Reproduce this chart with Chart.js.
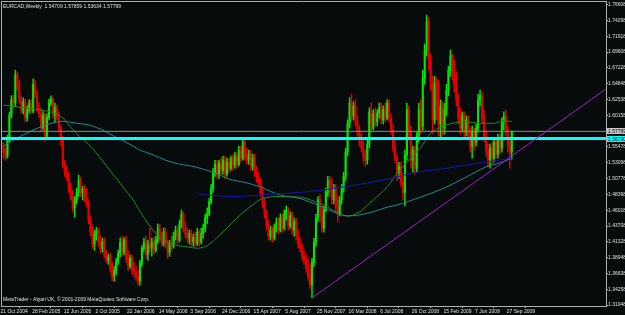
<!DOCTYPE html>
<html>
<head>
<meta charset="utf-8">
<script src="https://cdn.jsdelivr.net/npm/chart.js@4.4.1/dist/chart.umd.min.js"></script>
<style>
  html, body { margin: 0; padding: 0; background: #000; }
  canvas { display: block; }
</style>
</head>
<body>
<canvas id="chart" width="625" height="315"></canvas>
<script>
// ── DATA (weekly EURCAD) ──
const SYMBOL = 'EURCAD,Weekly';
const COPYRIGHT = 'MetaTrader - Alpari UK, \u00a9 2001-2009 MetaQuotes Software Corp.';

const DATE_LABELS = ['21 Oct 2004','28 Feb 2005','12 Jun 2005','2 Oct 2005','22 Jan 2006','14 May 2006',
  '3 Sep 2006','24 Dec 2006','15 Apr 2007','5 Aug 2007','25 Nov 2007','16 Mar 2008','6 Jul 2008',
  '26 Oct 2008','15 Feb 2009','7 Jun 2009','27 Sep 2009'];
const DATE_BARS = [0,16,32,48,64,80,96,112,128,144,160,176,192,208,224,240,256];

const PRICE_TICKS = [1.31948,1.34258,1.36638,1.38948,1.41328,1.43708,1.46018,1.48398,1.50778,1.53098,
  1.55478,1.60158,1.62538,1.64848,1.67228,1.69608,1.71918,1.74298,1.76608];

const OPEN = [
1.557,1.547,1.541,1.568,1.602,1.625,1.620,1.662,1.645,1.625,
1.610,1.622,1.598,1.610,1.620,1.608,1.648,1.632,1.613,1.604,
1.584,1.602,1.571,1.599,1.620,1.626,1.602,1.613,1.599,1.583,
1.565,1.529,1.517,1.510,1.493,1.481,1.464,1.476,1.487,1.505,
1.487,1.492,1.478,1.470,1.446,1.428,1.410,1.425,1.429,1.413,
1.403,1.413,1.394,1.386,1.391,1.374,1.362,1.371,1.385,1.397,
1.413,1.398,1.416,1.389,1.377,1.389,1.371,1.368,1.362,1.355,
1.382,1.404,1.413,1.395,1.410,1.404,1.413,1.401,1.416,1.434,
1.419,1.411,1.428,1.410,1.398,1.411,1.407,1.422,1.431,1.416,
1.440,1.455,1.434,1.425,1.419,1.426,1.413,1.420,1.411,1.428,
1.413,1.426,1.434,1.449,1.455,1.473,1.493,1.517,1.529,1.514,
1.531,1.520,1.535,1.514,1.532,1.523,1.537,1.528,1.541,1.529,
1.550,1.538,1.562,1.541,1.535,1.544,1.526,1.538,1.517,1.508,
1.502,1.487,1.470,1.455,1.437,1.422,1.431,1.419,1.434,1.443,
1.431,1.449,1.434,1.455,1.461,1.437,1.452,1.431,1.443,1.422,
1.410,1.404,1.392,1.386,1.374,1.362,1.350,1.383,1.413,1.449,
1.476,1.452,1.434,1.461,1.487,1.505,1.490,1.476,1.493,1.464,
1.455,1.476,1.493,1.511,1.547,1.589,1.620,1.601,1.616,1.592,
1.577,1.562,1.553,1.541,1.535,1.559,1.607,1.583,1.604,1.592,
1.605,1.613,1.595,1.610,1.598,1.620,1.598,1.580,1.553,1.538,
1.517,1.526,1.502,1.487,1.543,1.610,1.577,1.535,1.550,1.523,
1.571,1.610,1.586,1.657,1.699,1.741,1.684,1.651,1.595,1.648,
1.607,1.589,1.616,1.583,1.610,1.639,1.669,1.690,1.666,1.645,
1.625,1.598,1.583,1.601,1.577,1.595,1.571,1.556,1.577,1.562,
1.583,1.625,1.631,1.598,1.571,1.550,1.535,1.553,1.538,1.562,
1.544,1.568,1.553,1.592,1.601,1.580,1.556,1.54709];

const HIGH = [
1.562,1.553,1.572,1.607,1.631,1.632,1.669,1.666,1.654,1.631,
1.628,1.626,1.616,1.625,1.625,1.656,1.654,1.639,1.620,1.613,
1.607,1.605,1.604,1.626,1.631,1.629,1.620,1.617,1.607,1.587,
1.571,1.535,1.526,1.517,1.501,1.490,1.481,1.493,1.513,1.510,
1.496,1.498,1.493,1.476,1.452,1.437,1.431,1.435,1.434,1.422,
1.419,1.419,1.401,1.395,1.397,1.383,1.377,1.389,1.401,1.419,
1.422,1.420,1.422,1.401,1.394,1.394,1.383,1.377,1.371,1.386,
1.408,1.419,1.422,1.416,1.434,1.419,1.419,1.422,1.440,1.440,
1.428,1.434,1.434,1.416,1.416,1.422,1.428,1.437,1.437,1.446,
1.461,1.458,1.443,1.434,1.431,1.431,1.425,1.428,1.434,1.431,
1.434,1.440,1.455,1.464,1.478,1.499,1.523,1.535,1.535,1.535,
1.538,1.541,1.541,1.538,1.538,1.541,1.543,1.547,1.546,1.556,
1.556,1.568,1.566,1.553,1.550,1.550,1.544,1.544,1.526,1.517,
1.508,1.496,1.478,1.461,1.446,1.437,1.437,1.440,1.449,1.449,
1.455,1.455,1.461,1.467,1.464,1.458,1.458,1.449,1.449,1.431,
1.419,1.410,1.401,1.395,1.389,1.380,1.389,1.419,1.455,1.481,
1.484,1.467,1.467,1.493,1.511,1.511,1.508,1.499,1.499,1.481,
1.481,1.499,1.517,1.553,1.595,1.628,1.633,1.622,1.625,1.601,
1.586,1.574,1.565,1.550,1.565,1.613,1.620,1.610,1.613,1.610,
1.620,1.620,1.616,1.620,1.625,1.625,1.604,1.589,1.565,1.544,
1.532,1.532,1.514,1.550,1.620,1.616,1.586,1.556,1.556,1.577,
1.620,1.625,1.669,1.708,1.751,1.748,1.693,1.660,1.660,1.657,
1.654,1.625,1.622,1.620,1.648,1.675,1.699,1.693,1.684,1.666,
1.633,1.613,1.607,1.607,1.601,1.601,1.583,1.586,1.583,1.589,
1.633,1.639,1.636,1.610,1.580,1.559,1.559,1.562,1.568,1.568,
1.574,1.574,1.598,1.607,1.610,1.586,1.565,1.57859];

const LOW = [
1.538,1.535,1.538,1.562,1.598,1.613,1.616,1.639,1.620,1.605,
1.604,1.592,1.593,1.605,1.604,1.605,1.628,1.607,1.598,1.578,
1.580,1.563,1.566,1.595,1.616,1.598,1.592,1.595,1.577,1.557,
1.523,1.511,1.505,1.487,1.476,1.458,1.450,1.470,1.481,1.481,
1.476,1.473,1.465,1.440,1.422,1.404,1.401,1.416,1.407,1.397,
1.398,1.389,1.382,1.380,1.368,1.356,1.355,1.365,1.380,1.391,
1.392,1.394,1.383,1.371,1.374,1.365,1.361,1.356,1.349,1.349,
1.377,1.398,1.389,1.386,1.398,1.392,1.395,1.398,1.411,1.413,
1.407,1.407,1.404,1.389,1.392,1.401,1.404,1.416,1.410,1.413,
1.434,1.428,1.419,1.413,1.410,1.407,1.407,1.407,1.408,1.407,
1.410,1.419,1.428,1.440,1.452,1.470,1.487,1.511,1.508,1.508,
1.514,1.514,1.508,1.511,1.517,1.520,1.520,1.523,1.523,1.526,
1.532,1.535,1.535,1.529,1.529,1.520,1.520,1.511,1.502,1.496,
1.481,1.464,1.449,1.431,1.416,1.416,1.413,1.416,1.428,1.425,
1.428,1.428,1.431,1.446,1.431,1.434,1.425,1.422,1.416,1.404,
1.398,1.386,1.380,1.368,1.356,1.344,1.330,1.377,1.407,1.443,
1.443,1.428,1.428,1.458,1.481,1.481,1.470,1.470,1.458,1.443,
1.452,1.470,1.487,1.505,1.541,1.583,1.592,1.595,1.586,1.571,
1.556,1.547,1.532,1.526,1.529,1.553,1.577,1.580,1.586,1.586,
1.598,1.589,1.589,1.592,1.595,1.592,1.574,1.547,1.532,1.505,
1.508,1.496,1.476,1.467,1.535,1.565,1.523,1.517,1.514,1.517,
1.562,1.574,1.580,1.648,1.690,1.669,1.639,1.574,1.589,1.595,
1.571,1.568,1.571,1.574,1.601,1.631,1.660,1.654,1.636,1.616,
1.589,1.574,1.577,1.568,1.571,1.565,1.547,1.538,1.550,1.556,
1.577,1.616,1.589,1.562,1.541,1.526,1.523,1.529,1.532,1.538,
1.538,1.544,1.547,1.580,1.571,1.547,1.523,1.53634];

const CLOSE = [
1.547,1.541,1.568,1.602,1.625,1.620,1.662,1.645,1.625,1.610,
1.622,1.598,1.610,1.620,1.608,1.648,1.632,1.613,1.604,1.584,
1.602,1.571,1.599,1.620,1.626,1.602,1.613,1.599,1.583,1.565,
1.529,1.517,1.510,1.493,1.481,1.464,1.476,1.487,1.505,1.487,
1.492,1.478,1.470,1.446,1.428,1.410,1.425,1.429,1.413,1.403,
1.413,1.394,1.386,1.391,1.374,1.362,1.371,1.385,1.397,1.413,
1.398,1.416,1.389,1.377,1.389,1.371,1.368,1.362,1.355,1.382,
1.404,1.413,1.395,1.410,1.404,1.413,1.401,1.416,1.434,1.419,
1.411,1.428,1.410,1.398,1.411,1.407,1.422,1.431,1.416,1.440,
1.455,1.434,1.425,1.419,1.426,1.413,1.420,1.411,1.428,1.413,
1.426,1.434,1.449,1.455,1.473,1.493,1.517,1.529,1.514,1.531,
1.520,1.535,1.514,1.532,1.523,1.537,1.528,1.541,1.529,1.550,
1.538,1.562,1.541,1.535,1.544,1.526,1.538,1.517,1.508,1.502,
1.487,1.470,1.455,1.437,1.422,1.431,1.419,1.434,1.443,1.431,
1.449,1.434,1.455,1.461,1.437,1.452,1.431,1.443,1.422,1.410,
1.404,1.392,1.386,1.374,1.362,1.350,1.383,1.413,1.449,1.476,
1.452,1.434,1.461,1.487,1.505,1.490,1.476,1.493,1.464,1.455,
1.476,1.493,1.511,1.547,1.589,1.620,1.601,1.616,1.592,1.577,
1.562,1.553,1.541,1.535,1.559,1.607,1.583,1.604,1.592,1.605,
1.613,1.595,1.610,1.598,1.620,1.598,1.580,1.553,1.538,1.517,
1.526,1.502,1.487,1.543,1.610,1.577,1.535,1.550,1.523,1.571,
1.610,1.586,1.657,1.699,1.741,1.684,1.651,1.595,1.648,1.607,
1.589,1.616,1.583,1.610,1.639,1.669,1.690,1.666,1.645,1.625,
1.598,1.583,1.601,1.577,1.595,1.571,1.556,1.577,1.562,1.583,
1.625,1.631,1.598,1.571,1.550,1.535,1.553,1.538,1.562,1.544,
1.568,1.553,1.592,1.601,1.580,1.556,1.547,1.57799];

// moving averages, read at sample bars
const MA_GREEN_BARS = [0,8,18,26,30,34,39,44,49,53,57,61,65,68,73,78,83,88,93,98,103,108,113,118,124,131,140,150,157,164,170,174,180,187,194,200,211,216,221,227,234,241,248,252,257];
const MA_GREEN = [1.617,1.614,1.610,1.605,1.598,1.584,1.569,1.556,1.538,1.523,1.508,1.493,1.478,1.464,1.441,1.423,1.413,1.408,1.406,1.404,1.408,1.420,1.434,1.449,1.464,1.478,1.481,1.480,1.474,1.465,1.455,1.452,1.458,1.476,1.495,1.519,1.554,1.575,1.584,1.590,1.592,1.590,1.590,1.593,1.593];
const MA_TEAL_BARS = [0,5,13,20,27,30,37,44,50,57,65,69,73,85,97,107,114,122,130,140,150,159,167,174,184,194,201,207,224,234,244,251,257];
const MA_TEAL = [1.556,1.565,1.577,1.586,1.592,1.593,1.590,1.587,1.580,1.569,1.557,1.550,1.546,1.532,1.525,1.516,1.507,1.502,1.495,1.483,1.478,1.468,1.458,1.452,1.456,1.465,1.470,1.476,1.495,1.510,1.525,1.531,1.538];
const MA_BLUE_BARS = [99,116,133,150,167,184,191,200,207,224,241,257];
const MA_BLUE = [1.484,1.481,1.484,1.487,1.493,1.501,1.505,1.511,1.516,1.523,1.531,1.538];

// trend line and horizontal levels
const TREND_BARS = [156, 304.7];
const TREND = [1.330, 1.641];
const BID = 1.57799;
const LEVEL = 1.5673;

// ── LAYOUT ──
const X_MIN = -1.26, X_MAX = 304.68;
const Y_MIN = 1.3180, Y_MAX = 1.7720;
const FONT = { family: '"Liberation Sans", Arial, sans-serif', size: 5 };
const UP = '#00e800', DOWN = '#e80000', AXIS = '#b0b0b0', TEXT = '#e0e0e0';

const isUp = i => CLOSE[i] >= OPEN[i];
const pts = (xs, ys) => xs.map((x, i) => ({ x, y: ys[i] }));

const mtOverlay = {
  id: 'mtOverlay',
  beforeDraw(chart) {
    const { ctx, width, height } = chart;
    ctx.save();
    ctx.fillStyle = '#070b0b';
    ctx.fillRect(0, 0, width, height);
    ctx.restore();
  },
  afterDraw(chart) {
    const { ctx, chartArea: a, scales: { y } } = chart;
    ctx.save();
    ctx.strokeStyle = AXIS;
    ctx.lineWidth = 1;
    ctx.beginPath();
    ctx.moveTo(a.left + 0.5, a.bottom);
    ctx.lineTo(a.left + 0.5, a.top + 0.5);
    ctx.lineTo(a.right, a.top + 0.5);
    ctx.stroke();

    ctx.font = FONT.size + 'px ' + FONT.family;
    ctx.textBaseline = 'middle';
    ctx.fillStyle = TEXT;
    const n = CLOSE.length - 1;
    const head = [OPEN[n], HIGH[n], LOW[n], CLOSE[n]].map(v => v.toFixed(5)).join(' ');
    ctx.fillText(SYMBOL + '  ' + head, a.left + 2, a.top + 6);
    ctx.fillText(COPYRIGHT, a.left + 2, a.bottom - 6);

    // price boxes on the axis
    [[BID, '#c8c8c8'], [LEVEL, '#00ffff']].forEach(([v, col]) => {
      const py = Math.round(y.getPixelForValue(v));
      ctx.fillStyle = col;
      ctx.fillRect(a.right + 1, py - 3, 19, 6);
      ctx.fillStyle = '#000';
      ctx.fillText(v.toFixed(5), a.right + 2, py + 0.5);
    });
    ctx.restore();
  }
};

new Chart(document.getElementById('chart'), {
  type: 'bar',
  data: {
    datasets: [
      { type: 'line', data: pts(TREND_BARS, TREND), borderColor: '#a020c8', borderWidth: 1, pointRadius: 0, order: 1 },
      { type: 'line', data: pts([X_MIN, X_MAX], [BID, BID]), borderColor: '#8a8a8a', borderWidth: 1, pointRadius: 0, order: 2 },
      { type: 'line', data: pts([X_MIN, X_MAX], [LEVEL, LEVEL]), borderColor: '#00ffff', borderWidth: 3, pointRadius: 0, order: 3 },
      { type: 'line', data: pts(MA_BLUE_BARS, MA_BLUE), borderColor: '#1414b4', borderWidth: 1, pointRadius: 0,
        cubicInterpolationMode: 'monotone', order: 4 },
      { type: 'line', data: pts(MA_TEAL_BARS, MA_TEAL), borderColor: '#168c96', borderWidth: 1, pointRadius: 0,
        cubicInterpolationMode: 'monotone', order: 5 },
      { type: 'line', data: pts(MA_GREEN_BARS, MA_GREEN), borderColor: '#1e8c1e', borderWidth: 1, pointRadius: 0,
        cubicInterpolationMode: 'monotone', order: 6 },
      { data: CLOSE.map((c, i) => ({ x: i, y: [OPEN[i], c] })), barThickness: 1.4, minBarLength: 1, grouped: false,
        backgroundColor: ctx => isUp(ctx.dataIndex) ? UP : DOWN, order: 7 },
      { data: CLOSE.map((c, i) => ({ x: i, y: [LOW[i], HIGH[i]] })), barThickness: 0.8, grouped: false,
        backgroundColor: ctx => isUp(ctx.dataIndex) ? UP : DOWN, order: 8 }
    ]
  },
  options: {
    responsive: false,
    animation: false,
    devicePixelRatio: 1,
    layout: { padding: { left: 1, top: 1, right: 0, bottom: 0 } },
    plugins: { legend: { display: false }, tooltip: { enabled: false } },
    scales: {
      x: {
        type: 'linear', min: X_MIN, max: X_MAX, offset: false,
        grid: { display: true, drawOnChartArea: false, drawTicks: true, tickLength: 2, color: AXIS },
        border: { display: true, color: AXIS },
        ticks: {
          autoSkip: false, maxRotation: 0, align: 'start', labelOffset: -3, padding: 1,
          color: TEXT, font: FONT,
          callback: v => DATE_LABELS[DATE_BARS.indexOf(v)] ?? ''
        },
        afterBuildTicks: s => { s.ticks = DATE_BARS.map(v => ({ value: v })); },
        afterFit: s => { s.height = 9; s.paddingLeft = 0; s.paddingRight = 0; }
      },
      y: {
        position: 'right', min: Y_MIN, max: Y_MAX,
        grid: { display: true, drawOnChartArea: false, drawTicks: true, tickLength: 2, color: AXIS },
        border: { display: true, color: AXIS },
        ticks: { autoSkip: false, padding: 0, color: TEXT, font: FONT, callback: v => v.toFixed(5) },
        afterBuildTicks: s => { s.ticks = PRICE_TICKS.map(v => ({ value: v })); },
        afterFit: s => { s.width = 19; s.paddingTop = 0; s.paddingBottom = 0; }
      }
    }
  },
  plugins: [mtOverlay]
});
</script>
</body>
</html>
